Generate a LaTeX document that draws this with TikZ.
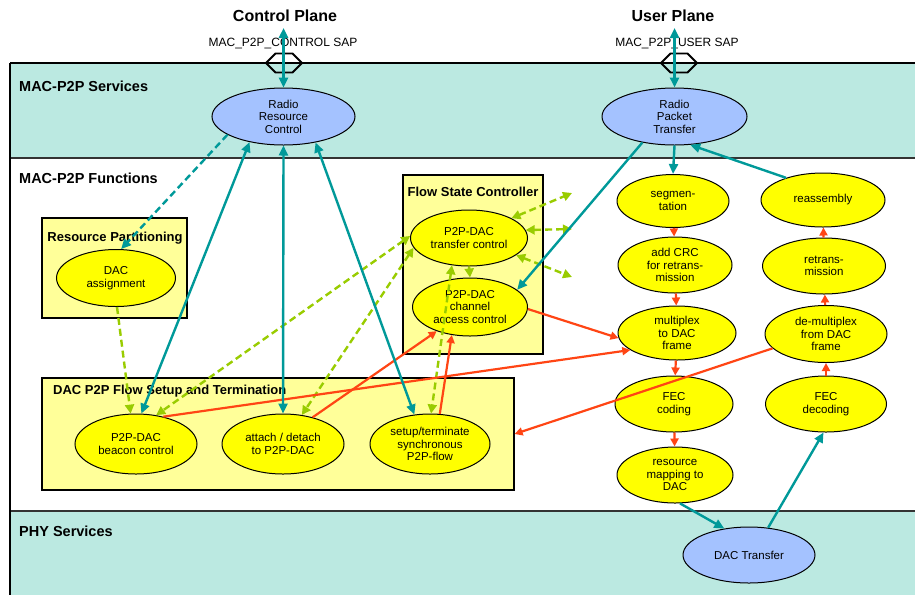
\documentclass[tikz,border=0pt]{standalone}
\usepackage{fontspec}
\setmainfont{Liberation Sans}
\usetikzlibrary{shapes.geometric,shapes.symbols,arrows.meta}
\definecolor{bandteal}{RGB}{187,233,225}
\definecolor{groupyellow}{RGB}{255,255,153}
\definecolor{funcyellow}{RGB}{255,255,0}
\definecolor{servblue}{RGB}{164,194,255}
\definecolor{linkteal}{RGB}{0,153,153}
\definecolor{linkred}{RGB}{255,69,20}
\definecolor{linkgreen}{RGB}{153,204,0}
\tikzset{
    ttip/.tip={Triangle[length=10pt,width=9pt]},
    rtip/.tip={Triangle[length=8pt,width=8pt]},
    gtip/.tip={Triangle[length=9pt,width=9pt]},
    func/.style={ellipse, draw, fill=funcyellow, line width=1pt, inner sep=0pt},
    serv/.style={func, fill=servblue},
    ftext/.style={align=center, inner sep=0pt, font=\fontsize{11.5}{12.5}\selectfont},
    group/.style={draw, fill=groupyellow, line width=1.2pt, inner sep=0pt},
    gtitle/.style={inner sep=0pt, font=\bfseries\fontsize{13}{15}\selectfont},
    layer/.style={anchor=west, inner sep=0pt, font=\bfseries\fontsize{14.5}{16}\selectfont},
    plane/.style={inner sep=0pt, font=\bfseries\fontsize{16}{18}\selectfont},
    sap/.style={inner sep=0pt, font=\fontsize{12}{14}\selectfont},
    saphex/.style={signal, signal to=east and west, draw, line width=1.8pt, minimum width=36, minimum height=19, inner sep=0pt},
    tlink/.style={color=linkteal, line width=2.4pt},
    rlink/.style={color=linkred, line width=2.2pt},
    glink/.style={color=linkgreen, line width=2.4pt, dash pattern=on 7pt off 4pt}
}
\begin{document}
\begin{tikzpicture}[x=1pt, y=-1pt]
    \useasboundingbox (0,0) rectangle (915,595);
    \fill[bandteal] (10,63) rectangle (915,158);
    \fill[bandteal] (10,511) rectangle (915,595);
    \draw[black!80, line width=1.5pt] (10,158) -- (915,158);
    \draw[black!80, line width=1.5pt] (10,511) -- (915,511);
    \draw[line width=2.5pt] (10,63) -- (915,63);
    \draw[line width=2pt] (10,63) -- (10,595);

    \node[plane] (cplane) at (285,16) {Control Plane};
    \node[plane] (uplane) at (673,16) {User Plane};
    \node[sap] (csap) at (283,43) {MAC\_P2P\_CONTROL SAP};
    \node[sap] (usap) at (677,43) {MAC\_P2P\_USER SAP};
    \node[saphex] (chex) at (284,63) {};
    \node[saphex] (uhex) at (679,63) {};
    \coordinate (cptop) at (283.5,28);
    \coordinate (uptop) at (674.5,28);

    \node[layer] (lsrv) at (19,86) {MAC-P2P Services};
    \node[layer] (lfun) at (19,178) {MAC-P2P Functions};
    \node[layer] (lphy) at (19,531) {PHY Services};

    \begin{scope}[every node/.style={group}]
        \node[minimum width=145, minimum height=100] (rpbox) at (114.5,268) {};
        \node[minimum width=140, minimum height=179] (fscbox) at (473,264.5) {};
        \node[minimum width=472, minimum height=112] (flowbox) at (278,434) {};
    \end{scope}
    \node[gtitle] (rptitle) at (115,238) {Resource Partitioning};
    \node[gtitle] (fsctitle) at (473,192) {Flow State Controller};
    \node[gtitle, anchor=west] (flowtitle) at (53,391) {DAC P2P Flow Setup and Termination};

    \begin{scope}
        \node[serv, minimum width=143, minimum height=57, label={[ftext]center:Radio\\Resource\\Control}] (rrc) at (283.5,116.5) {};
        \node[serv, minimum width=145, minimum height=57, label={[ftext]center:Radio\\Packet\\Transfer}] (rpt) at (674.5,116.5) {};
        \node[serv, minimum width=132, minimum height=56, label={[ftext]center:DAC Transfer}] (dact) at (749,555) {};
        \node[func, minimum width=119, minimum height=57, label={[ftext]center:DAC\\assignment}] (dasn) at (116,278) {};
        \node[func, minimum width=117, minimum height=56, label={[ftext]center:P2P-DAC\\transfer control}] (tc) at (469,238) {};
        \node[func, minimum width=115, minimum height=58, label={[ftext]center:P2P-DAC\\channel\\access control}] (ca) at (470,307) {};
        \node[func, minimum width=122, minimum height=60, label={[ftext]center:P2P-DAC\\beacon control}] (beacon) at (136,444) {};
        \node[func, minimum width=122, minimum height=60, label={[ftext]center:attach / detach\\to P2P-DAC}] (attach) at (283,444) {};
        \node[func, minimum width=120, minimum height=60, label={[ftext]center:setup/terminate\\synchronous\\P2P-flow}] (setup) at (430,444) {};
        \node[func, minimum width=112, minimum height=53, label={[ftext]center:segmen-\\tation}] (seg) at (673,201) {};
        \node[func, minimum width=114, minimum height=56, label={[ftext]center:add CRC\\for retrans-\\mission}] (crc) at (675,265) {};
        \node[func, minimum width=118, minimum height=54, label={[ftext]center:multiplex\\to DAC\\frame}] (mux) at (677,333) {};
        \node[func, minimum width=118, minimum height=56, label={[ftext]center:FEC\\coding}] (fec) at (674,404) {};
        \node[func, minimum width=116, minimum height=56, label={[ftext]center:resource\\mapping to\\DAC}] (rmap) at (675,475) {};
        \node[func, minimum width=124, minimum height=54, label={[ftext]center:reassembly}] (reas) at (823,200) {};
        \node[func, minimum width=123, minimum height=56, label={[ftext]center:retrans-\\mission}] (retx) at (824,266) {};
        \node[func, minimum width=122, minimum height=57, label={[ftext]center:de-multiplex\\from DAC\\frame}] (demux) at (826,334) {};
        \node[func, minimum width=121, minimum height=56, label={[ftext]center:FEC\\decoding}] (fecd) at (826,404) {};
    \end{scope}
    \coordinate (stubA) at (572,193);
    \coordinate (stubB) at (572,229);
    \coordinate (stubC) at (572,277);

    \begin{scope}
        \path [glink, -gtip] (dasn.272) edge (beacon.100);
        \path [glink, gtip-gtip] (tc.178) edge (beacon.55);
        \path [glink, gtip-gtip] (tc.190) edge (attach.57);
        \path [glink, gtip-gtip] (tc.238) edge (setup.88);
        \path [glink, -gtip] (tc.south) edge (ca.north);
        \path [glink, gtip-gtip] (tc.25) edge (stubA);
        \path [glink, gtip-gtip] (tc.8) edge (stubB);
        \path [glink, gtip-gtip] (tc.340) edge (stubC);

        \path [rlink, -rtip] (seg) edge (crc);
        \path [rlink, -rtip] (crc) edge (mux);
        \path [rlink, -rtip] (mux) edge (fec);
        \path [rlink, -rtip] (fec) edge (rmap);
        \path [rlink, -rtip] (fecd) edge (demux);
        \path [rlink, -rtip] (demux) edge (retx);
        \path [rlink, -rtip] (retx) edge (reas);
        \path [rlink, -rtip] (ca.358) edge (mux.185);
        \path [rlink, -rtip] (beacon.45) edge (mux.200);
        \path [rlink, -rtip] (attach.42) edge (ca.216);
        \path [rlink, -rtip] (setup.72) edge (ca.237);
        \path [rlink, -rtip] (demux.195) edge (flowbox.east);

        \path [tlink, ttip-ttip] (cptop) edge (rrc.north);
        \path [tlink, ttip-ttip] (uptop) edge (rpt.north);
        \path [tlink, ttip-ttip] (rrc.217) edge (beacon.80);
        \path [tlink, ttip-ttip] (rrc.south) edge (attach.north);
        \path [tlink, ttip-ttip] (rrc.321) edge (setup.118);
        \path [tlink, dash pattern=on 7pt off 4pt, -ttip] (rrc.198) edge (dasn.80);
        \path [tlink, -ttip] (rpt.219) edge (ca.20);
        \path [tlink, -ttip] (rpt.south) edge (seg.north);
        \path [tlink, -ttip] (reas.149) edge (rpt.299);
        \path [tlink, -ttip] (rmap.280) edge (dact.133);
        \path [tlink, -ttip] (dact.55) edge (fecd.265);
    \end{scope}
\end{tikzpicture}
\end{document}
